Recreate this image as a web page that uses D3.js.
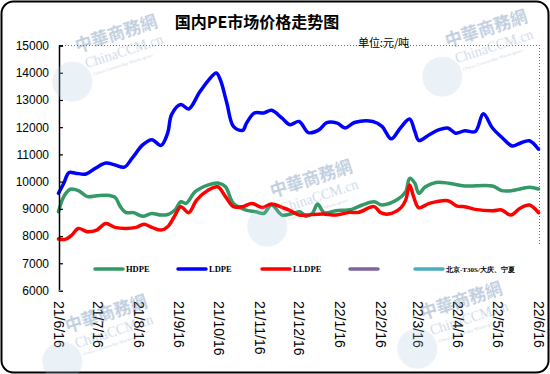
<!DOCTYPE html>
<html>
  <head>
    <meta charset="utf-8">
    <style>
    body {
      margin: 0;
      background: #fff;
      font-family: "Liberation Sans", Arial, sans-serif;
    }
    </style>
  </head>
  <body>
    <script src="https://cdnjs.cloudflare.com/ajax/libs/d3/7.8.5/d3.min.js"></script>
    <script>
    var width = 550, height = 374;

    // weekly-ish readings, [date, yuan/ton]
    var hdpe = [
      ["2021-06-16", 8890], ["2021-06-20", 9450], ["2021-06-25", 9720], ["2021-07-01", 9670],
      ["2021-07-08", 9450], ["2021-07-15", 9480], ["2021-07-22", 9500], ["2021-07-29", 9420],
      ["2021-08-02", 9080], ["2021-08-06", 8870], ["2021-08-12", 8860], ["2021-08-19", 8730],
      ["2021-08-26", 8830], ["2021-09-02", 8770], ["2021-09-08", 8810], ["2021-09-13", 8980],
      ["2021-09-17", 9260], ["2021-09-21", 9200], ["2021-09-28", 9630], ["2021-10-08", 9880],
      ["2021-10-16", 9940], ["2021-10-21", 9810], ["2021-10-27", 9200], ["2021-11-05", 8960],
      ["2021-11-13", 8890], ["2021-11-19", 8830], ["2021-11-25", 9140], ["2021-12-03", 8770],
      ["2021-12-11", 8830], ["2021-12-17", 8890], ["2021-12-21", 8730], ["2021-12-26", 8830],
      ["2021-12-30", 9180], ["2022-01-04", 8860], ["2022-01-13", 8930], ["2022-01-25", 8980],
      ["2022-02-02", 9140], ["2022-02-11", 9260], ["2022-02-17", 9140], ["2022-03-01", 9350],
      ["2022-03-07", 9630], ["2022-03-10", 10120], ["2022-03-14", 9940], ["2022-03-17", 9570],
      ["2022-03-22", 9810], ["2022-03-30", 9970], ["2022-04-09", 9940], ["2022-04-21", 9840],
      ["2022-05-12", 9840], ["2022-05-19", 9670], ["2022-05-27", 9670], ["2022-06-09", 9790],
      ["2022-06-16", 9730]
    ];

    var ldpe = [
      ["2021-06-16", 9570], ["2021-06-20", 9940], ["2021-06-24", 10330], ["2021-06-29", 10310],
      ["2021-07-07", 10280], ["2021-07-14", 10490], ["2021-07-22", 10680], ["2021-07-29", 10610],
      ["2021-08-05", 10530], ["2021-08-11", 10860], ["2021-08-19", 11350], ["2021-08-26", 11540],
      ["2021-09-02", 11330], ["2021-09-07", 11780], ["2021-09-10", 12460], ["2021-09-17", 12830],
      ["2021-09-23", 12670], ["2021-10-01", 13260], ["2021-10-08", 13720], ["2021-10-14", 13990],
      ["2021-10-17", 13750], ["2021-10-22", 12890], ["2021-10-27", 12030], ["2021-11-03", 11880],
      ["2021-11-06", 12150], ["2021-11-12", 12520], ["2021-11-19", 12520], ["2021-11-25", 12620],
      ["2021-12-03", 12330], ["2021-12-09", 12090], ["2021-12-16", 12210], ["2021-12-23", 11800],
      ["2021-12-31", 11900], ["2022-01-06", 12170], ["2022-01-14", 12150], ["2022-01-20", 11970],
      ["2022-01-27", 12170], ["2022-02-10", 12210], ["2022-02-17", 12030], ["2022-02-24", 11570],
      ["2022-03-03", 11970], ["2022-03-10", 12300], ["2022-03-14", 11840], ["2022-03-17", 11510],
      ["2022-03-25", 11720], ["2022-04-01", 11900], ["2022-04-08", 11970], ["2022-04-14", 11780],
      ["2022-04-21", 11870], ["2022-04-29", 11840], ["2022-05-05", 12490], ["2022-05-12", 11970],
      ["2022-05-19", 11630], ["2022-05-27", 11310], ["2022-06-02", 11410], ["2022-06-09", 11500],
      ["2022-06-16", 11190]
    ];

    var lldpe = [
      ["2021-06-16", 7890], ["2021-06-21", 7880], ["2021-06-26", 8030], ["2021-07-01", 8280],
      ["2021-07-08", 8160], ["2021-07-15", 8220], ["2021-07-22", 8460], ["2021-07-29", 8320],
      ["2021-08-06", 8280], ["2021-08-14", 8320], ["2021-08-20", 8430], ["2021-08-26", 8320],
      ["2021-09-02", 8220], ["2021-09-07", 8340], ["2021-09-12", 8710], ["2021-09-17", 9080],
      ["2021-09-23", 8860], ["2021-09-29", 9320], ["2021-10-08", 9690], ["2021-10-15", 9810],
      ["2021-10-21", 9450], ["2021-10-27", 9080], ["2021-11-03", 9080], ["2021-11-10", 9200],
      ["2021-11-18", 9050], ["2021-11-25", 9180], ["2021-12-03", 9050], ["2021-12-08", 8960],
      ["2021-12-16", 8770], ["2021-12-21", 8770], ["2022-01-03", 8810], ["2022-01-13", 8770],
      ["2022-01-23", 8870], ["2022-01-30", 8870], ["2022-02-11", 9080], ["2022-02-16", 8860],
      ["2022-02-22", 8810], ["2022-03-03", 9020], ["2022-03-07", 9320], ["2022-03-10", 9880],
      ["2022-03-13", 9450], ["2022-03-17", 9040], ["2022-03-25", 9200], ["2022-04-08", 9300],
      ["2022-04-15", 9100], ["2022-04-21", 9080], ["2022-04-29", 8980], ["2022-05-12", 8930],
      ["2022-05-19", 8960], ["2022-05-26", 8770], ["2022-06-02", 9020], ["2022-06-09", 9140],
      ["2022-06-16", 8860]
    ];

    var xTickLabels = ["21/6/16", "21/7/16", "21/8/16", "21/9/16", "21/10/16", "21/11/16", "21/12/16",
                       "22/1/16", "22/2/16", "22/3/16", "22/4/16", "22/5/16", "22/6/16"];
    var yTicks = [6000, 7000, 8000, 9000, 10000, 11000, 12000, 13000, 14000, 15000];
    var legendNames = ["HDPE", "LDPE", "LLDPE", "", "北京-T30S/大庆、宁夏"];
    var legendColors = ["#339966", "#0000ff", "#ff0000", "#8064a2", "#4bacc6"];

    var parse = d3.utcParse("%Y-%m-%d");
    var parseTick = d3.utcParse("%y/%m/%d");

    var x = d3.scaleUtc()
        .domain([parse("2021-06-16"), parse("2022-06-16")])
        .range([58.5, 538.5]);

    var y = d3.scaleLinear()
        .domain([6000, 15000])
        .range([290.5, 45.5]);

    var svg = d3.select("body").append("svg")
        .attr("width", width)
        .attr("height", height);

    svg.append("rect")
        .attr("x", 1.5).attr("y", 1.5)
        .attr("width", width - 3).attr("height", height - 3)
        .attr("rx", 12).attr("ry", 12)
        .attr("fill", "#fff")
        .attr("stroke", "#000")
        .attr("stroke-width", 2);

    // dotted plot border (top + right)
    svg.append("path")
        .attr("d", "M59,45.5H539.5V246")
        .attr("fill", "none")
        .attr("stroke", "#4a6fb0")
        .attr("stroke-width", 1)
        .attr("stroke-dasharray", "1,2");

    // lines
    var line = d3.line()
        .x(function(d) { return x(parse(d[0])); })
        .y(function(d) { return y(d[1]); })
        .curve(d3.curveCatmullRom.alpha(0.5));

    var g = svg.append("g");
    [[hdpe, legendColors[0]], [ldpe, legendColors[1]], [lldpe, legendColors[2]]].forEach(function(s) {
      g.append("path")
          .datum(s[0])
          .attr("d", line)
          .attr("fill", "none")
          .attr("stroke", s[1])
          .attr("stroke-width", 3.5)
          .attr("stroke-linejoin", "round")
          .attr("stroke-linecap", "round");
    });

    // y axis
    var yAxis = d3.axisLeft(y)
        .tickValues(yTicks)
        .tickSize(-4)
        .tickPadding(10)
        .tickFormat(d3.format("d"));

    var ya = svg.append("g")
        .attr("transform", "translate(59,0)")
        .call(yAxis);
    ya.select(".domain").attr("stroke", "#000").attr("stroke-width", 1.5);
    ya.selectAll(".tick line").attr("stroke", "#000").attr("stroke-width", 1.2);
    ya.selectAll(".tick text")
        .style("font-family", "'Liberation Sans', Arial, sans-serif")
        .style("font-size", "12px")
        .attr("fill", "#000");

    svg.append("line")
        .attr("x1", 59).attr("x2", 63)
        .attr("y1", 290.5).attr("y2", 290.5)
        .attr("stroke", "#888");

    // x tick labels, rotated
    var xt = svg.append("g");
    xt.selectAll("text")
        .data(xTickLabels)
        .enter().append("text")
        .attr("transform", function(d) { return "translate(" + (x(parseTick(d)) - 5) + ",301) rotate(90)"; })
        .attr("text-anchor", "start")
        .style("font-size", "14px")
        .style("font-family", "'Liberation Sans', Arial, sans-serif")
        .text(function(d) { return d; });

    // legend
    var legendX = [95, 178, 262, 350, 415];
    var lg = svg.append("g");
    legendNames.forEach(function(name, i) {
      lg.append("line")
          .attr("x1", legendX[i]).attr("x2", legendX[i] + 28)
          .attr("y1", 269).attr("y2", 269)
          .attr("stroke", legendColors[i])
          .attr("stroke-width", 3.5)
          .attr("stroke-linecap", "round");
      lg.append("text")
          .attr("x", legendX[i] + 31)
          .attr("y", 272)
          .style("font-family", "'Liberation Serif', serif")
          .style("font-size", i == 4 ? "7px" : "8.5px")
          .style("font-weight", "bold")
          .text(name);
    });

    // title + unit
    svg.append("text")
        .attr("x", 257).attr("y", 28)
        .attr("text-anchor", "middle")
        .style("font-family", "'Noto Sans CJK SC', sans-serif")
        .style("font-size", "16px")
        .style("font-weight", "bold")
        .text("国内PE市场价格走势图");

    svg.append("text")
        .attr("x", 358).attr("y", 47)
        .style("font-family", "'Noto Sans CJK SC', sans-serif")
        .style("font-size", "11px")
        .text("单位:元/吨");

    // faint site watermarks
    var marks = [[70, 55], [440, 50], [265, 200], [60, 335], [415, 322]];
    var wm = svg.append("g").attr("opacity", 0.4).style("pointer-events", "none");
    marks.forEach(function(p) {
      var w = wm.append("g").attr("transform", "translate(" + p[0] + "," + p[1] + ") rotate(-18)");
      w.append("circle")
          .attr("cx", -6).attr("cy", 26).attr("r", 20)
          .attr("fill", "#a9c3de").attr("opacity", 0.6);
      w.append("text")
          .attr("x", 8).attr("y", 0)
          .style("font-family", "'Noto Sans CJK TC', sans-serif")
          .style("font-size", "17px")
          .style("font-weight", "bold")
          .attr("fill", "#5f82ad")
          .text("中華商務網");
      w.append("text")
          .attr("x", 12).attr("y", 18)
          .style("font-family", "'Liberation Serif', serif")
          .style("font-size", "14px")
          .attr("fill", "#7f9cc0")
          .text("ChinaCCM.cn");
      w.append("text")
          .attr("x", 16).attr("y", 27)
          .style("font-family", "'Liberation Serif', serif")
          .style("font-size", "5px")
          .attr("fill", "#7f9cc0")
          .text("China Commodity Marketplace");
    });
    </script>
  </body>
</html>
